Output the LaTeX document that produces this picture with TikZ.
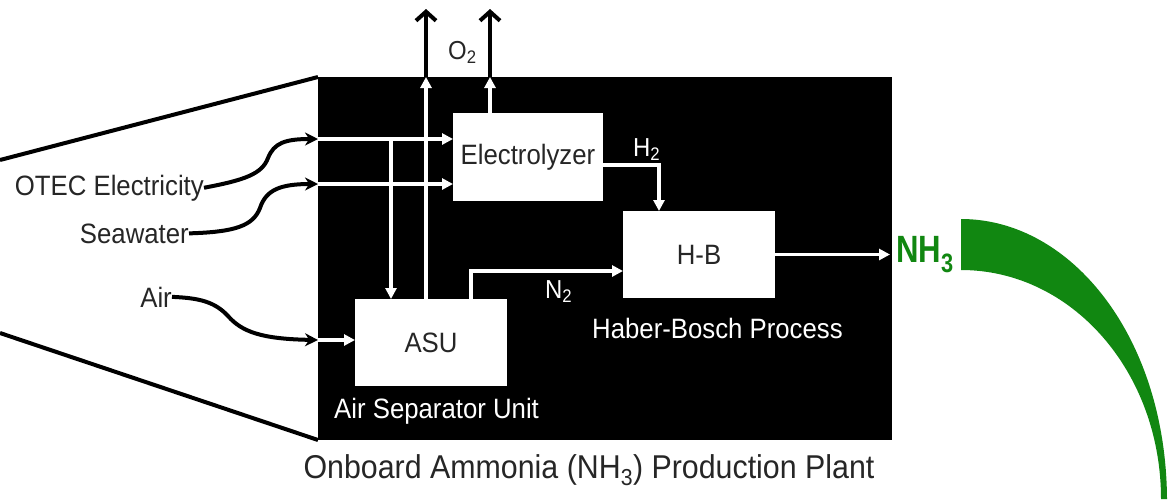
\documentclass[tikz,border=0pt]{standalone}
\usepackage{fontspec}
\setmainfont{Liberation Sans}
\newfontfamily\labfont[FakeStretch=0.92]{Liberation Sans}
\newfontfamily\nhfont[FakeStretch=0.82]{Liberation Sans}
\usetikzlibrary{arrows.meta}
\definecolor{ammgreen}{HTML}{118711}
\definecolor{ink}{HTML}{262626}
\begin{document}
\begin{tikzpicture}[x=1pt,y=-1pt,
  unitbox/.style={fill=white,draw=none,inner sep=0pt,outer sep=0pt,text=ink,
    font=\labfont\fontsize{28}{30}\selectfont},
  wlab/.style={text=white,inner sep=0pt,font=\labfont\fontsize{28}{30}\selectfont},
  slab/.style={inner sep=0pt,font=\labfont\fontsize{26}{28}\selectfont},
  olab/.style={text=ink,inner sep=0pt,font=\labfont\fontsize{28}{30}\selectfont},
  wire/.style={white,line width=3.5pt,-{Triangle[length=11pt,width=11pt]}},
  feed/.style={black,line width=4pt,-{Stealth[length=13pt,width=13pt]}},
  vent/.style={black,line width=4pt,-{Straight Barb[length=9pt,width=20pt]}},
  bigline/.style={black,line width=4pt}]
\useasboundingbox (0,0) rectangle (1172,499);

% plant
\node[fill=black,minimum width=574pt,minimum height=363pt,inner sep=0pt,outer sep=0pt] (plant) at (605,258.5) {};

% units
\node[unitbox,minimum width=150pt,minimum height=88pt] (elec) at (528,157) {Electrolyzer};
\node[unitbox,minimum width=152pt,minimum height=87pt] (hb) at (699,254.5) {H-B};
\node[unitbox,minimum width=152pt,minimum height=87pt] (asu) at (431,342.5) {ASU};

% white labels in plant
\node[wlab,anchor=base west] (asulab) at (334,418) {Air Separator Unit};
\node[wlab,anchor=base west] (hblab) at (592,338) {Haber-Bosch Process};
\node[slab,text=white,anchor=base west] (h2lab) at (633,156) {H\textsubscript{2}};
\node[slab,text=white,anchor=base west] (n2lab) at (545,298) {N\textsubscript{2}};
\node[slab,text=ink,anchor=base west] (o2lab) at (448,59) {O\textsubscript{2}};

% outside labels
\node[olab,anchor=base east] (otec) at (204,195) {OTEC Electricity};
\node[olab,anchor=base east] (sea) at (189,243) {Seawater};
\node[olab,anchor=base east] (air) at (172,307) {Air};
\node[text=ink,inner sep=0pt,anchor=base,font=\labfont\fontsize{33}{35}\selectfont] (title) at (589,478) {Onboard Ammonia (NH\textsubscript{3}) Production Plant};
\node[text=ammgreen,inner sep=0pt,anchor=base west,font=\nhfont\bfseries\fontsize{38}{40}\selectfont] (nh3) at (896,262) {NH\textsubscript{3}};

% coordinates
\coordinate (in1) at (318,139);
\coordinate (in2) at (318,184);
\coordinate (in3) at (318,340);
\coordinate (j1) at (391,139);
\coordinate (o1) at (426,77);
\coordinate (o2) at (490,77);
\coordinate (o1top) at (426,9);
\coordinate (o2top) at (490,9);
\coordinate (h2c) at (659,165);
\coordinate (n2c) at (471,271);
\coordinate (lt) at (0,160);
\coordinate (lb) at (0,333);

% white internal flows
\draw[wire] (in1) -- (in1 -| elec.west);
\draw[wire] (in2) -- (in2 -| elec.west);
\draw[wire] (j1) -- (j1 |- asu.north);
\draw[wire] (asu.north -| o1) -- (o1);
\draw[wire] (elec.north -| o2) -- (o2);
\draw[wire] (elec.east |- h2c) -| (hb.north -| h2c);
\draw[wire] (asu.north -| n2c) |- (hb.west |- n2c);
\draw[wire] (in3) -- (in3 -| asu.west);
\draw[wire,shorten >=2pt] (hb.east) -- (hb.east -| plant.east);

% O2 vents
\draw[vent] (o1) -- (o1top);
\draw[vent] (o2) -- (o2top);

% feed curves
\draw[feed] (otec.east) .. controls (245,180) and (262,174) .. (268,158)
   .. controls (274,143) and (285,139) .. (in1);
\draw[feed] (sea.east) .. controls (235,232) and (253,226) .. (260,208)
   .. controls (266,190) and (280,184) .. (in2);
\draw[feed] (air.east) .. controls (200,298) and (215,302) .. (228,316)
   .. controls (242,332) and (262,339) .. (in3);

% zoom lines
\draw[bigline] (lt) -- (plant.north west);
\draw[bigline] (lb) -- (plant.south west);

% green flow
\fill[ammgreen] (961,219) .. controls (1072,219) and (1166,338) .. (1167,499)
   -- (1161,499) .. controls (1161,372) and (1072,270) .. (961,270) -- cycle;
\end{tikzpicture}
\end{document}
